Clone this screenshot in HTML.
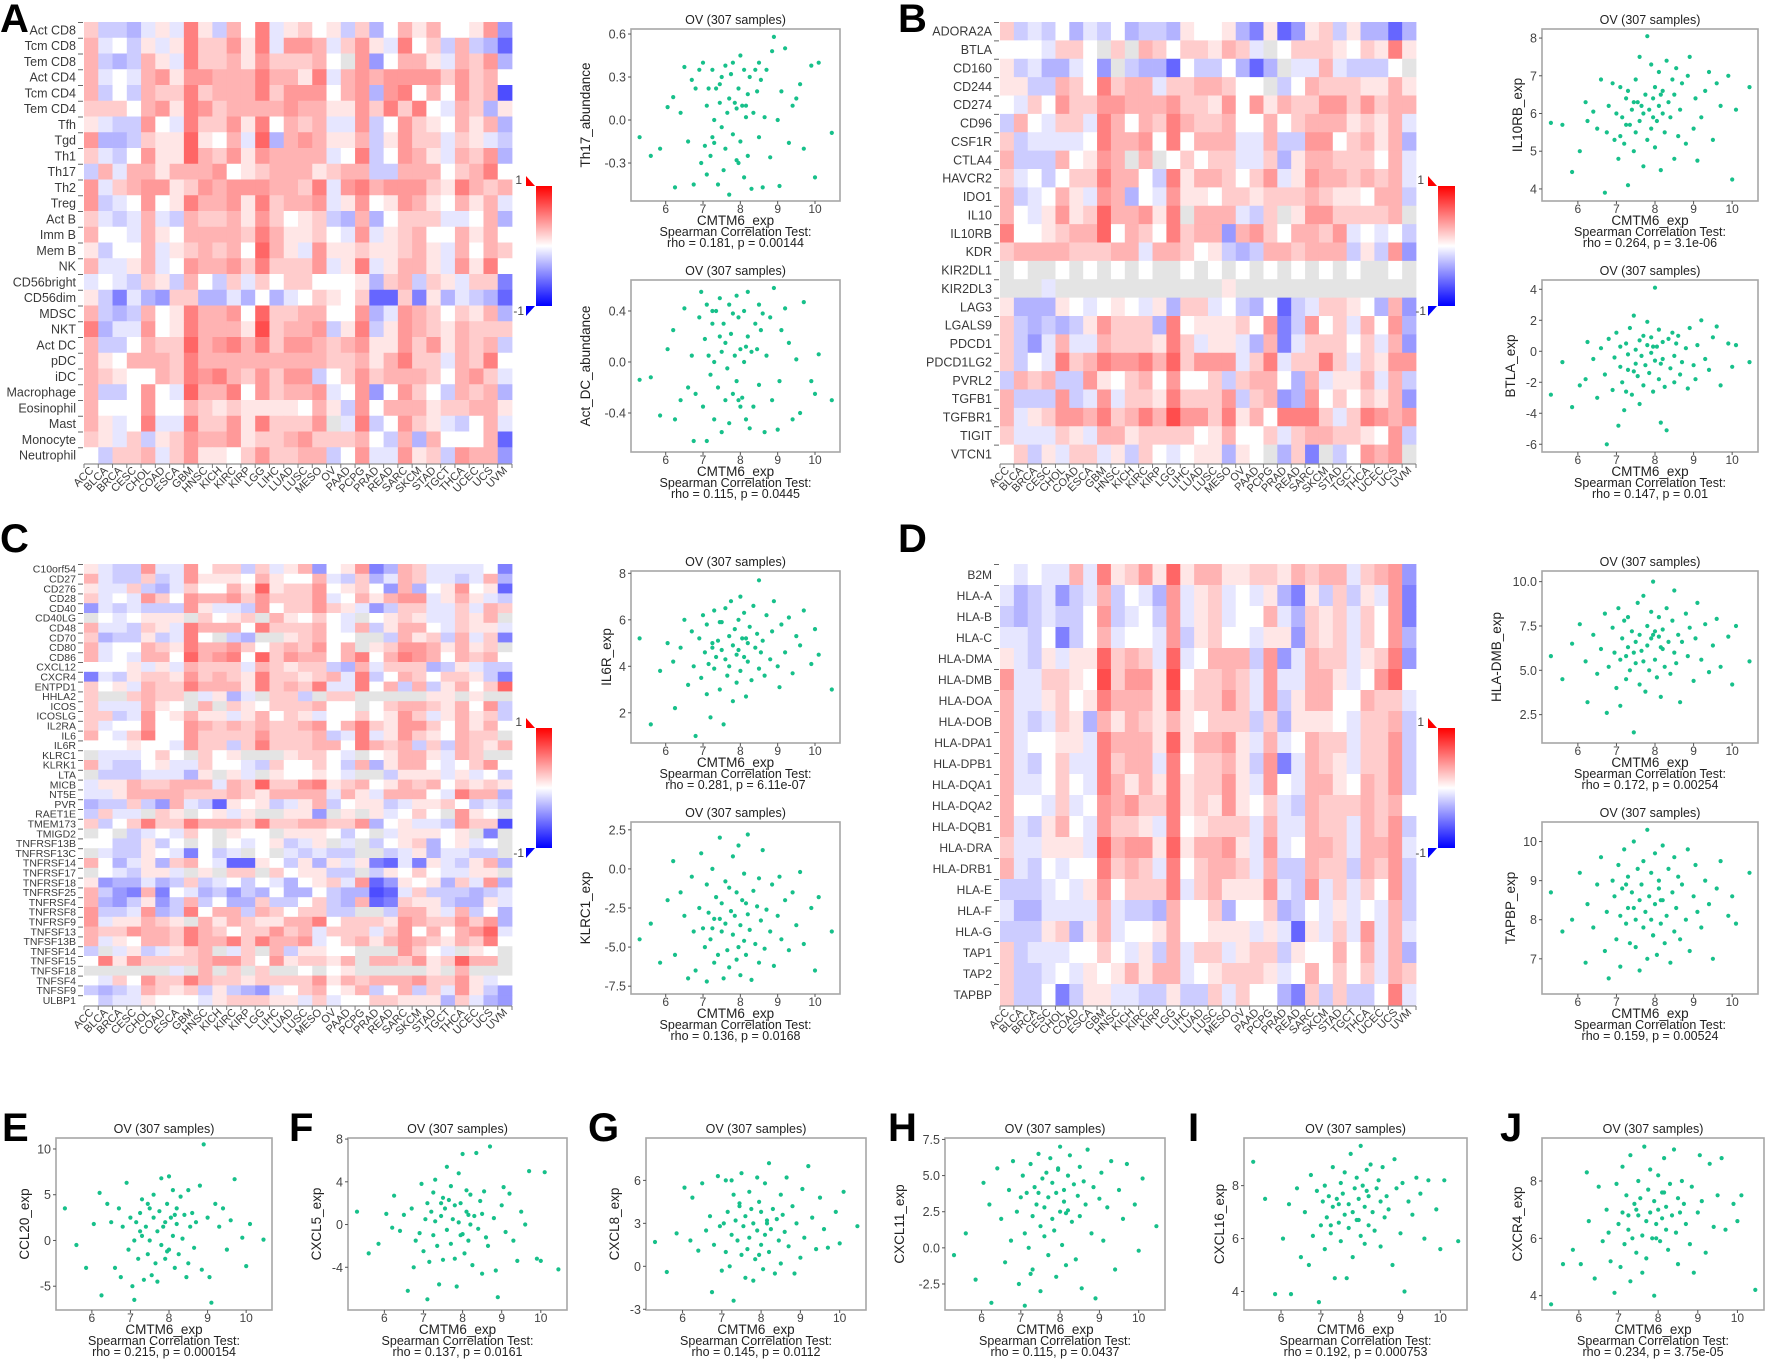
<!DOCTYPE html>
<html>
<head>
<meta charset="utf-8">
<style>
html,body{margin:0;padding:0;background:#fff;}
svg{display:block;font-family:"Liberation Sans",Arial,sans-serif;}
</style>
</head>
<body>
<svg id="fig" xmlns="http://www.w3.org/2000/svg" width="1772" height="1362" viewBox="0 0 1772 1362">
<rect x="0" y="0" width="1772" height="1362" fill="#fff"/>
</svg>
<script>
// ---------------- HEATMAP DATA ----------------
const cancerTypes = ["ACC","BLCA","BRCA","CESC","CHOL","COAD","ESCA","GBM","HNSC","KICH","KIRC","KIRP","LGG","LIHC","LUAD","LUSC","MESO","OV","PAAD","PCPG","PRAD","READ","SARC","SKCM","STAD","TGCT","THCA","UCEC","UCS","UVM"];
// codes: digit d => +d/10 ; letter a..i => -(1..9)/10 ; x => gray (NA)
const rowsA = ["Act CD8","Tcm CD8","Tem CD8","Act CD4","Tcm CD4","Tem CD4","Tfh","Tgd","Th1","Th17","Th2","Treg","Act B","Imm B","Mem B","NK","CD56bright","CD56dim","MDSC","NKT","Act DC","pDC","iDC","Macrophage","Eosinophil","Mast","Monocyte","Neutrophil"];
const codesA = [
"2bbca 1a51b 305a1 201b2 c0313 0014d",
"3a0b1 a1522 415a4 43a24 1a502 b3bcf",
"3bcb3 1a522 31422 230x4 d0331 a324c",
"3a0a3 41443 33533 15a34 34444 24230",
"3b0b3 22523 33524 44034 c4503 0423g",
"22203 41542 33334 33114 25250 a32c1",
"1abb4 0a522 41503 23aa4 b0421 0313c",
"4ccb2 11610 3a6c3 43113 b1422 a21ab",
"2ab04 11632 41433 33a05 b0431 a324c",
"b3a33 13334 01233 31233 bb333 02350",
"4a234 41243 44433 25a45 34442 15323",
"4ba04 01533 41523 34a14 01431 0313a",
"2aba3 ab322 31420 12bc3 c0222 aa03c",
"300a3 10333 32531 120a4 a1230 03130",
"1b003 a1232 30631 a4112 11231 a3032",
"3aa13 a0433 42522 24a15 a1331 a4150",
"a0ab2 1b30b 2a202 20001 c23b2 1a22e",
"1beac d22cc ac0ca 02102 ff2e1 cabcf",
"3bcb3 01533 40622 33004 ca432 0213c",
"5caa4 01533 31723 34b15 b1432 13222",
"3bb03 22634 53524 43234 11424 1323b",
"31033 32533 33333 33223 13522 a3250",
"32100 32545 32424 4b024 23332 0342a",
"3bb04 0a633 50423 34a04 d0420 b323c",
"30004 00321 21111 031b4 03331 22331",
"31a05 aa522 41522 24xa5 b0421 ab03a",
"21a2b 12433 41223 42223 0b3c3 0003f",
"0b223 a2411 02422 33b04 aa412 b433d"];
const rowsB = ["ADORA2A","BTLA","CD160","CD244","CD274","CD96","CSF1R","CTLA4","HAVCR2","IDO1","IL10","IL10RB","KDR","KIR2DL1","KIR2DL3","LAG3","LGALS9","PDCD1","PDCD1LG2","PVRL2","TGFB1","TGFBR1","TIGIT","VTCN1"];
const codesB = [
"2bab0 cab0c bbc10 01ce1 fd12b 1ccfc",
"000a2 20x2x 32022 132ax 02221 02151",
"1bacc a0dxb ccf0b b0cfc xaa3a bbb0x",
"11bb3 20523 3a223 3200x b0322 21131",
"0a204 22443 33422 14041 32244 24233",
"b30a2 2a530 32532 23003 02333 1213a",
"2baaa a0533 40503 33aa3 bb440 2313c",
"3bbb3 0143x 3x020 22aa2 c1332 2203a",
"2a0b0 22533 0b513 32024 a1433 2323a",
"3ba03 1a43c 0a411 02212 22321 1033b",
"30a14 12633 415x3 33ab2 x1442 2223x",
"50012 33603 20523 3d342 03324 a0a0b",
"23333 22233 a3320 1bcb3 32333 b1b4d",
"x0xx0 x0x0x 0xx0x 0x0x0 x0x0x 0xx0x",
"xxxax xxxxx xxxxx x1xxx xxxxx xxxxx",
"1ccc1 0a010 a1c22 a0bc0 fba22 10c3d",
"2bcbc b1422 2c501 11204 eb402 a304c",
"2bda3 aa322 2152a 11ac3 ea222 02a3d",
"2b0a5 23544 53624 44a25 a2252 a2144",
"b323b b4102 30400 2b233 0c3a1 13a3b",
"3bbb4 ba4a2 21522 24b23 dc402 0213d",
"3a124 43523 53744 25130 5552a 25434",
"2aaa2 1a331 22220 13002 a2332 2104b",
"02b1a 22a1b 20a01 1c10x c2exb 0434x"];
const rowsC = ["C10orf54","CD27","CD276","CD28","CD40","CD40LG","CD48","CD70","CD80","CD86","CXCL12","CXCR4","ENTPD1","HHLA2","ICOS","ICOSLG","IL2RA","IL6","IL6R","KLRC1","KLRK1","LTA","MICB","NT5E","PVR","RAET1E","TMEM173","TMIGD2","TNFRSF13B","TNFRSF13C","TNFRSF14","TNFRSF17","TNFRSF18","TNFRSF25","TNFRSF4","TNFRSF8","TNFRSF9","TNFSF13","TNFSF13B","TNFSF14","TNFSF15","TNFSF18","TNFSF4","TNFSF9","ULBP1"];
const codesC = [
"1abb4 aa402 2b2a1 3d014 ec32a aaa0e",
"3abb2 ba411 10310 03ab2 ca32a aba3c",
"1aa2b ca200 31612 24012 0d3c0 1401f",
"2a0a4 20433 42422 24a03 1344a 131ab",
"dabab bb41a ab402 2421a db22a a2a32",
"x0a01 11x20 12x31 020ax 0121a a213x",
"3aab2 1a533 30522 230a3 b1330 a211a",
"2cbb1 ba50x bcxx1 2300x xb312 b3a2e",
"3a003 21533 42023 2403x 12443 1312x",
"3a0a3 30634 50624 33035 03543 03230",
"0001a 1a322 2a321 22bc3 a222c b1abb",
"eab12 21423 21522 123a5 b0320 221be",
"201a3 22533 31523 25aa5 03b3b 13026",
"2xx23 22xa1 cax22 bx22x xxxx1 1x1xx",
"2aaa3 10x3x 21022 2300x 02332 1304b",
"22ba4 01311 a1302 1a002 0142a 1312b",
"2a004 00432 32322 34035 21442 03130",
"30a25 00422 22422 23ba5 a1421 0322x",
"00010 0a422 b2522 23305 323b2 b3213",
"xaaa0 20x20 1xxx1 220ax 01331 a32xx",
"3abb0 1aa20 0ab20 020b3 c1330 a0240",
"xbbba aac1x 1ax10 010ax xb111 a1a0b",
"a1132 2333a 32622 45123 01323 02121",
"aa133 33222 32133 33a31 a3330 a533c",
"cbb2b d3abf 101ba 13b01 1ba11 20bab",
"b2aax 21x01 a1xx1 1dx1x 1a020 x410x",
"2b025 22533 32522 33224 c01aa b422g",
"x0xba 0a20x 100x1 110b0 xa111 01xex",
"00bb1 b0x0x 0a01b a1xax b012c 01a0x",
"xabb1 0ae0b ax0xa babbx xba1c aabbx",
"30ca1 c230a ff10b 1c1a1 efae1 ab13c",
"x0ab1 1ax1x 22x20 11bbx b1020 aa11x",
"1dcca cb2ba 0b0ac 012a4 fd101 c2a4c",
"3bde3 e0acb dbc0c c0bcc gfa2b bbcba",
"3cdb1 db3b0 cc2bb 02bc3 fe211 bcc1a",
"4bba4 cb503 3b320 22bbx xb331 a3b0c",
"4a113 21x31 32113 35022 21432 2424c",
"32243 32532 02242 3a222 a2403 0346a",
"3a103 32533 52533 4a023 13432 13250",
"bxa1b a123x a2x3b 1100x xx420 ax10x",
"05142 22234 42041 2213x 33241 2633x",
"xxxxx xax3x 2x2xx 0x01x xxxx1 x3xxx",
"0a204 22532 21222 24132 33342 241a0",
"bcba3 212b1 bcda0 23013 b03b2 a41bd",
"0baa1 000a1 22211 a2a00 22111 c2acd"];
const rowsD = ["B2M","HLA-A","HLA-B","HLA-C","HLA-DMA","HLA-DMB","HLA-DOA","HLA-DOB","HLA-DPA1","HLA-DPB1","HLA-DQA1","HLA-DQA2","HLA-DQB1","HLA-DRA","HLA-DRB1","HLA-E","HLA-F","HLA-G","TAP1","TAP2","TAPBP"];
const codesD = [
"0a0aa 3a512 41613 31122 13233 a234d",
"acbad ba3b0 ac4a1 2a0a1 ce1b2 b1a4e",
"bcbab b04ba 0b4a1 2a003 ac212 a204e",
"aab0e b03a0 0a4b1 200a1 1d212 a204c",
"1ab1a 11623 2a6a0 333b4 da322 a125d",
"4aa22 10724 41702 232a4 aa331 a0460",
"3aa12 01533 31612 242a4 b1330 0322a",
"3aba2 1c313 21310 222b2 c1110 a223b",
"3a001 1a533 31613 341a3 a0322 a224b",
"3ab02 aa523 3a502 231b4 ea321 a224b",
"3aa02 0a531 31512 241a4 0a331 0324b",
"300a2 a0434 22512 14102 ab322 23230",
"3ab13 0a422 1a501 222a3 aa322 a324b",
"2aa11 1a634 41613 341a4 a0332 a334a",
"3ab0a 00523 2a502 332a3 bb322 b324b",
"bbba0 a1402 225a2 31114 ab4a2 a204b",
"accaa aa3ab bc300 2c002 cb0a1 a0a3b",
"bbb12 c13a0 01300 111a1 af1a2 a4a3a",
"2baaa 0020a 1b3a2 2a122 b1003 03a3c",
"2bba0 a1013 133a0 12221 a0302 02a32",
"2bb0e b11aa bb1bb 2a200 ce2b2 bb05a"];

// ---------------- SCATTER DATA ----------------
const cmtm6Exp = [5.3,5.6,5.85,6.05,6.2,6.25,6.4,6.5,6.6,6.7,6.75,6.8,6.9,6.95,7.0,7.05,7.1,7.1,7.15,7.2,7.25,7.3,7.3,7.35,7.4,7.45,7.5,7.5,7.55,7.6,7.6,7.65,7.7,7.7,7.75,7.8,7.8,7.85,7.9,7.9,7.95,8.0,8.0,8.05,8.1,8.1,8.15,8.2,8.2,8.25,8.3,8.35,8.4,8.45,8.5,8.5,8.55,8.6,8.65,8.7,8.8,8.85,8.9,9.0,9.05,9.1,9.2,9.3,9.4,9.5,9.6,9.7,9.9,10.0,10.1,10.45,7.45,7.95,8.15,7.25];
const th17Abundance = [-0.12,-0.25,-0.2,0.09,0.16,-0.47,0.05,0.37,-0.15,0.28,-0.45,0.22,0.35,-0.3,0.4,-0.18,0.1,-0.38,0.22,-0.25,0.35,-0.16,0.0,0.22,-0.45,0.12,-0.05,0.3,-0.35,0.38,-0.2,0.05,0.15,-0.52,0.32,-0.1,0.4,0.12,-0.28,0.08,0.22,0.45,-0.15,0.1,0.35,-0.4,0.02,0.18,-0.25,0.3,-0.48,0.05,0.35,0.2,-0.12,0.4,0.28,-0.47,0.02,0.35,-0.26,0.48,0.58,0.0,-0.46,0.2,0.5,-0.16,0.1,0.15,0.25,-0.2,0.38,-0.4,0.4,-0.09,0.25,-0.3,0.1,-0.12];
const actDCAbundance = [-0.14,-0.12,-0.42,0.1,0.25,-0.45,-0.3,0.42,-0.2,0.05,-0.62,-0.25,0.35,0.55,-0.35,0.18,0.45,-0.62,0.05,-0.1,0.3,-0.45,0.0,0.4,-0.2,0.5,-0.55,0.08,0.3,-0.3,0.15,-0.05,0.45,-0.48,0.22,-0.25,0.38,0.05,-0.15,0.52,0.35,-0.35,0.1,-0.28,0.4,0.0,-0.45,0.2,0.55,-0.52,0.08,-0.35,0.3,0.1,0.45,-0.18,0.25,0.38,-0.55,0.05,0.35,-0.3,0.58,-0.53,-0.15,0.25,0.42,0.15,-0.45,0.02,-0.4,0.47,-0.15,-0.25,0.06,-0.3,0.2,-0.3,0.12,0.4];
const il10rbExp = [5.75,5.7,4.45,5.0,6.3,5.8,6.05,5.6,6.9,3.9,5.5,6.2,6.8,5.3,6.0,4.8,5.4,6.7,5.9,5.2,6.4,4.1,6.6,5.7,6.1,5.0,6.9,5.5,6.3,7.5,5.8,6.2,4.6,6.0,6.5,5.3,8.05,6.1,5.6,7.3,6.4,5.1,6.7,5.8,6.2,7.1,4.5,6.0,6.6,5.5,7.4,6.3,5.9,6.9,4.8,6.5,7.2,5.4,6.1,6.8,5.2,7.0,7.5,5.6,6.4,4.75,5.9,6.6,7.1,5.3,6.8,6.2,7.0,4.25,6.1,6.7,6.3,5.9,6.5,5.7];
const btlaExp = [-2.8,-0.7,-3.6,-2.2,-1.8,0.6,-0.5,-3.0,0.2,-1.5,-6.0,0.8,-2.5,-0.4,1.2,-4.8,-1.0,0.3,-2.0,-3.8,0.5,-1.2,-0.2,1.5,-2.8,2.3,-0.8,0.1,-1.6,0.7,-3.4,-0.3,1.0,-2.2,-0.9,0.4,1.9,-1.4,-0.1,0.9,-2.6,4.1,-0.6,0.3,-1.8,1.4,-4.6,-0.5,0.6,-2.3,-5.1,0.8,-1.1,1.2,-0.3,-2.0,0.5,1.0,-1.5,-0.7,0.2,-2.4,1.5,-0.9,-1.8,0.4,2.0,-0.5,-1.2,0.9,1.6,-2.2,0.5,-1.0,0.4,-0.7,-1.3,0.3,-0.8,-2.6];
const il6rExp = [5.2,1.5,3.8,5.0,4.2,2.2,4.8,6.0,3.2,5.5,4.0,1.0,5.2,3.5,6.2,4.6,2.8,5.8,4.1,1.8,5.0,3.9,6.4,4.4,5.1,3.0,4.7,5.9,1.5,4.3,6.5,3.6,5.3,4.0,6.8,2.5,4.9,5.6,3.3,4.5,6.0,7.0,3.8,5.2,4.4,6.3,2.7,5.0,4.2,5.7,3.4,6.6,4.8,5.4,3.9,7.7,4.6,5.1,3.6,6.2,4.3,5.5,6.8,4.0,3.1,5.8,4.6,6.1,3.7,5.3,4.9,6.4,4.1,5.6,4.5,3.0,5.9,4.7,5.2,4.8];
const klrc1Exp = [-4.5,-3.5,-6.0,-2.0,0.5,-5.5,-1.5,-3.0,-7.0,-0.5,-4.0,-6.5,-2.5,1.0,-3.8,-5.0,-1.0,-7.2,-2.8,-4.5,0.0,-6.0,-3.2,-1.8,-5.5,2.0,-4.0,-2.2,-7.0,-0.8,-3.5,-5.2,-1.2,-6.3,-2.7,0.8,-4.2,-3.0,-5.8,-1.5,1.5,-3.6,-6.8,-2.0,-4.6,-0.3,-5.5,-2.9,2.2,-3.9,-7.1,-1.4,-4.8,-2.4,-6.0,-0.6,-3.3,1.2,-5.1,-2.6,-4.0,-1.0,-6.2,-3.0,-0.5,-4.5,-2.0,-5.2,-1.5,-3.6,-0.2,-4.8,-2.5,-6.5,-1.8,-4.0,-3.2,-5.0,-2.2,-3.8];
const hlaDmbExp = [5.8,4.5,6.5,7.6,5.5,3.2,7.0,4.8,6.2,8.2,2.6,5.2,7.4,6.0,4.0,8.5,5.6,3.0,6.8,7.8,4.5,6.3,8.0,5.0,7.2,1.5,6.6,5.4,8.8,4.2,7.0,6.1,5.5,9.2,3.8,7.5,6.4,5.0,8.3,6.8,10.0,5.6,7.2,4.6,6.9,8.0,3.5,7.3,6.2,5.2,8.5,6.6,4.8,7.8,6.0,9.5,5.4,7.0,3.2,6.6,8.2,5.8,7.4,4.4,6.8,8.8,5.6,7.6,4.9,6.4,7.9,5.2,6.9,4.2,7.5,5.5,6.0,7.0,6.3,5.8];
const tapbpExp = [8.7,7.7,8.0,9.2,6.9,8.4,7.8,8.9,9.6,7.2,8.2,6.5,9.0,8.6,7.5,9.4,8.1,6.8,8.8,9.8,7.9,8.3,9.1,7.4,8.7,10.0,8.0,7.3,9.3,8.5,6.7,8.9,9.5,7.8,8.2,10.3,7.0,8.6,9.2,8.0,7.6,9.7,8.4,7.1,8.8,9.0,7.9,8.5,9.9,7.4,8.1,9.3,6.9,8.7,9.6,7.7,8.3,9.1,7.5,8.9,8.0,9.8,7.2,8.6,9.4,8.2,7.8,9.0,8.4,7.0,8.8,9.5,8.1,8.6,7.9,9.2,8.3,7.6,8.5,8.9];
const ccl20Exp = [3.5,-0.5,-3.0,1.8,5.2,-6.0,4.0,2.0,-3.0,3.5,-4.0,1.5,6.3,-1.0,2.5,-5.0,0.0,-6.5,2.0,-2.0,3.0,0.5,4.5,-4.3,1.5,-1.5,3.5,0.0,-3.8,2.5,5.0,-2.5,1.0,-4.5,3.2,-0.5,6.8,1.5,-2.0,2.0,4.0,7.0,-1.0,2.5,0.5,5.5,-3.0,1.8,3.5,-1.5,4.8,0.2,2.8,-4.0,5.5,-2.5,1.5,3.0,-0.8,2.0,6.0,-3.2,10.5,2.5,-4.0,-6.8,4.0,1.5,3.5,-1.0,2.2,6.7,0.3,-2.8,1.8,0.1,4.0,-1.2,2.8,1.0];
const cxcl5Exp = [1.2,-2.7,-1.8,1.0,-0.3,2.7,-0.6,0.9,-6.2,1.5,-4.0,-1.5,-0.8,3.8,-2.5,0.5,-7.0,2.0,-3.5,1.2,-1.0,0.3,4.2,-2.0,-5.6,0.8,2.5,-3.3,1.5,5.4,-0.5,2.3,-1.8,3.6,0.5,-3.2,1.8,-5.8,0.2,4.8,2.0,-0.9,6.6,-2.7,1.2,3.2,-1.5,0.0,2.8,-3.8,0.8,6.7,-0.4,2.2,-4.6,1.0,3.1,-1.2,-2.0,7.3,0.6,-4.3,-6.8,1.8,3.5,-0.7,2.9,-1.5,-3.4,1.2,0.0,5.0,-3.2,-3.4,4.9,-4.2,2.0,-1.0,0.9,3.0];
const cxcl8Exp = [1.7,-0.4,2.3,5.5,1.8,4.8,1.1,5.8,2.5,3.5,-1.8,1.5,6.3,2.8,-0.3,3.0,6.0,1.0,3.8,0.0,2.2,5.0,-2.4,3.2,1.8,4.2,0.8,6.5,2.8,-0.8,3.5,1.2,5.2,2.0,4.0,-1.0,3.0,0.5,6.2,2.5,4.5,1.5,3.8,-0.2,2.2,5.8,3.0,1.0,7.2,2.6,4.0,-0.5,3.3,1.8,5.0,0.2,3.6,2.4,6.2,1.4,4.2,-0.5,3.0,0.6,5.4,2.0,7.0,3.4,1.2,4.8,2.6,1.3,3.8,1.6,5.2,2.8,4.4,0.8,3.2,6.0];
const cxcl11Exp = [-0.5,1.0,-2.2,4.5,3.0,-3.8,5.5,2.0,-1.0,4.0,0.5,6.0,2.5,-2.5,3.5,5.0,1.0,-4.0,3.8,0.0,5.8,2.2,-1.5,4.2,3.0,6.5,1.5,-3.0,4.8,2.8,0.8,5.2,3.5,-0.5,6.2,2.0,4.5,1.2,-2.0,3.8,5.5,2.5,7.0,0.2,4.0,3.2,-1.2,5.0,2.6,6.4,1.8,4.4,-0.8,3.6,5.6,2.2,-2.8,4.6,3.0,6.8,1.0,4.2,-3.5,3.4,5.2,0.5,2.8,6.0,-1.5,4.0,2.0,5.8,3.0,-0.2,4.8,1.5,3.8,5.4,2.4,-1.8];
const cxcl16Exp = [8.9,7.5,3.9,6.0,7.3,3.9,7.9,5.3,7.0,5.0,8.4,6.1,7.8,3.6,6.5,7.4,5.6,8.0,6.8,7.6,6.2,8.7,7.2,4.5,7.5,6.6,8.1,5.9,7.7,6.9,8.5,4.5,7.3,6.4,9.2,7.0,5.3,7.9,8.3,6.7,7.5,9.5,6.1,8.0,7.2,5.8,8.6,7.6,6.5,8.8,7.0,6.3,7.9,8.2,5.7,7.4,8.7,6.8,7.6,7.1,5.0,9.0,7.9,6.2,8.1,4.0,7.4,6.9,8.3,7.7,6.0,8.2,7.1,5.6,8.2,5.9,7.3,6.7,7.8,6.5];
const cxcr4Exp = [3.7,5.1,5.6,5.1,8.3,6.6,4.6,7.8,5.9,7.0,6.2,5.2,4.1,7.9,6.5,5.0,8.5,6.9,5.8,7.5,6.3,4.5,8.9,6.0,7.2,5.5,6.8,8.0,7.4,4.8,6.1,9.2,6.6,5.3,7.7,6.9,8.4,6.0,7.3,4.0,6.5,8.2,7.0,5.9,7.6,6.7,8.8,6.3,7.1,5.6,7.9,6.8,9.1,6.2,7.4,5.1,6.9,8.0,7.2,6.5,5.8,7.8,4.8,6.9,8.9,7.3,5.5,8.6,6.4,7.5,8.8,6.3,7.2,6.6,7.5,4.2,7.0,6.0,7.6,6.8];
// tick values / labels
const xTicks = [6,7,8,9,10];
const ticksTh17 = [-0.3,0,0.3,0.6], labelsTh17 = ["-0.3","0.0","0.3","0.6"];
const ticksActDC = [-0.4,0,0.4], labelsActDC = ["-0.4","0.0","0.4"];
const ticksIl10rb = [4,5,6,7,8];
const ticksBtla = [-6,-4,-2,0,2,4];
const ticksIl6r = [2,4,6,8];
const ticksKlrc1 = [-7.5,-5,-2.5,0,2.5], labelsKlrc1 = ["-7.5","-5.0","-2.5","0.0","2.5"];
const ticksHlaDmb = [2.5,5,7.5,10], labelsHlaDmb = ["2.5","5.0","7.5","10.0"];
const ticksTapbp = [7,8,9,10];
const ticksCcl20 = [-5,0,5,10];
const ticksCxcl5 = [-4,0,4,8];
const ticksCxcl8 = [-3,0,3,6];
const ticksCxcl11 = [-2.5,0,2.5,5,7.5], labelsCxcl11 = ["-2.5","0.0","2.5","5.0","7.5"];
const ticksCxcl16 = [4,6,8];
const ticksCxcr4 = [4,6,8];

// ---------------- DRAWING ----------------
const NS = "http://www.w3.org/2000/svg";
const svg = document.getElementById("fig");
function mk(tag, attrs, parent){
  const e = document.createElementNS(NS, tag);
  for (const k in attrs) e.setAttribute(k, attrs[k]);
  (parent || svg).appendChild(e);
  return e;
}
function txt(str, attrs, parent){
  const t = mk("text", attrs, parent);
  t.textContent = str;
  return t;
}
function decode(code){
  return code.replace(/ /g,"").split("").map(ch=>{
    if (ch>="0" && ch<="9") return (+ch)/10;
    if (ch==="x") return null;
    return -(ch.charCodeAt(0)-96)/10;
  });
}
function heatColor(v){
  if (v===null) return "rgb(228,228,228)";
  v = Math.max(-1, Math.min(1, v));
  if (v>=0){ const g = Math.round(255*(1-v)); return `rgb(255,${g},${g})`; }
  const r = Math.round(255*(1+v)); return `rgb(${r},${r},255)`;
}

function drawHeatmap(name, rows, codes, x0, y0, x1, y1, fs){
  const g = mk("g", {});
  
  
  const nC = cancerTypes.length, nR = rows.length;
  const cw = (x1-x0)/nC, rh = (y1-y0)/nR;
  const xs = i => x0 + i*cw, ys = j => y0 + j*rh;
  codes.forEach((code, j)=>{
    const vals = decode(code);
    vals.forEach((v, i)=>{
      const r = mk("rect", {x:xs(i).toFixed(2), y:ys(j).toFixed(2), width:(cw+0.4).toFixed(2), height:(rh+0.4).toFixed(2), fill:heatColor(v)}, g);
      
      
    });
  });
  rows.forEach((lab, j)=>{
    const t = txt(lab, {x:x0-8, y:(ys(j)+rh/2+fs*0.36).toFixed(1), "text-anchor":"end", "font-size":fs, fill:"#3a3a3a"}, g);
    
    
    mk("line", {x1:x0-6, x2:x0-1, y1:ys(j)+0.5, y2:ys(j)+0.5, stroke:"#666", "stroke-width":1}, g);
  });
  mk("line", {x1:x0, x2:x1, y1:y1+1, y2:y1+1, stroke:"#777", "stroke-width":1}, g);
  cancerTypes.forEach((lab, i)=>{
    mk("line", {x1:xs(i), x2:xs(i), y1:y1+1, y2:y1+5, stroke:"#777", "stroke-width":1}, g);
    const cx = xs(i)+cw/2+3, cy = y1+8;
    const t = txt(lab, {x:cx, y:cy, "text-anchor":"end", "font-size":11, fill:"#3a3a3a", transform:`rotate(-45 ${cx} ${cy})`}, g);
    
    
  });
  mk("line", {x1:x1, x2:x1, y1:y1+1, y2:y1+5, stroke:"#777", "stroke-width":1}, g);
}

let gradCount = 0;
function drawColorbar(name, x0, y0, x1, y1){
  const g = mk("g", {});
  
  
  const id = "cbgrad"+(gradCount++);
  const defs = mk("defs", {}, g);
  const lg = mk("linearGradient", {id:id, x1:0, y1:0, x2:0, y2:1}, defs);
  mk("stop", {offset:"0", "stop-color":"#ff0000"}, lg);
  mk("stop", {offset:"0.5", "stop-color":"#ffffff"}, lg);
  mk("stop", {offset:"1", "stop-color":"#0000ff"}, lg);
  mk("rect", {x:x0, y:y0, width:x1-x0, height:y1-y0, fill:`url(#${id})`}, g);
  mk("polygon", {points:`${x0-10},${y0-10} ${x0-10},${y0} ${x0-1},${y0}`, fill:"#ff0000"}, g);
  mk("polygon", {points:`${x0-10},${y1+10} ${x0-10},${y1} ${x0-1},${y1}`, fill:"#0000ff"}, g);
  txt("1", {x:x0-14, y:y0-2, "text-anchor":"end", "font-size":12, fill:"#444"}, g);
  txt("-1", {x:x0-12, y:y1+9, "text-anchor":"end", "font-size":12, fill:"#444"}, g);
}

const xDom = [5.07, 10.67];
function drawScatter(name, x0, y0, w, h, yvals, yDom, yTicks, yLabels, ylab, stat){
  const g = mk("g", {});
  
  
  const sx = v => x0 + (v-xDom[0])/(xDom[1]-xDom[0])*w;
  const sy = v => y0 + h - (v-yDom[0])/(yDom[1]-yDom[0])*h;
  const title = txt("OV (307 samples)", {x:x0+w/2, y:y0-5, "text-anchor":"middle", "font-size":12.5, fill:"#222"}, g);
  
  
  const n = Math.min(cmtm6Exp.length, yvals.length);
  for (let i=0;i<n;i++){
    const c = mk("circle", {cx:sx(cmtm6Exp[i]).toFixed(1), cy:sy(yvals[i]).toFixed(1), r:2.1, fill:"#17c08a"}, g);
    
    
  }
  const box = mk("rect", {x:x0, y:y0, width:w, height:h, fill:"none", stroke:"#a6a6a6", "stroke-width":1.6}, g);
  
  
  xTicks.forEach(v=>{
    const X = sx(v);
    mk("line", {x1:X, x2:X, y1:y0+h, y2:y0+h+3, stroke:"#555", "stroke-width":1}, g);
    const t = txt(String(v), {x:X, y:y0+h+12, "text-anchor":"middle", "font-size":12, fill:"#444"}, g);
    
    
  });
  let maxLen = 0;
  yTicks.forEach((v, k)=>{
    const Y = sy(v);
    const lab = yLabels ? yLabels[k] : String(v);
    maxLen = Math.max(maxLen, lab.length);
    mk("line", {x1:x0-3, x2:x0, y1:Y, y2:Y, stroke:"#555", "stroke-width":1}, g);
    const t = txt(lab, {x:x0-5, y:Y+4.5, "text-anchor":"end", "font-size":12.5, fill:"#444"}, g);
    
    
  });
  const lx = x0 - 10 - maxLen*7 - 3, ly = y0 + h/2;
  const yl = txt(ylab, {x:lx, y:ly, "text-anchor":"middle", "font-size":13.5, fill:"#222", transform:`rotate(-90 ${lx} ${ly})`}, g);
  
  
  const cx = x0 + w/2;
  const xl = txt("CMTM6_exp", {x:cx, y:y0+h+24, "text-anchor":"middle", "font-size":13.5, fill:"#222"}, g);
  
  
  const s1 = txt("Spearman Correlation Test:", {x:cx, y:y0+h+35, "text-anchor":"middle", "font-size":12.5, fill:"#222"}, g);
  
  
  const s2 = txt(stat, {x:cx, y:y0+h+46, "text-anchor":"middle", "font-size":12.5, fill:"#222"}, g);
  
  
}

function panelLetter(ch, x, y){
  const t = txt(ch, {x:x, y:y, "font-size":40, "font-weight":"bold", fill:"#000"});
  
  
}

// Panel A
panelLetter("A", 0, 32);
drawHeatmap("heatmap-immune-cells", rowsA, codesA, 84, 22, 512, 463, 12.5);
drawColorbar("colorbar-a", 536, 186, 552, 306);
drawScatter("scatter-th17", 631, 29, 209, 172, th17Abundance, [-0.565,0.635], ticksTh17, labelsTh17, "Th17_abundance", "rho = 0.181, p = 0.00144");
drawScatter("scatter-act-dc", 631, 280, 209, 172, actDCAbundance, [-0.706,0.643], ticksActDC, labelsActDC, "Act_DC_abundance", "rho = 0.115, p = 0.0445");
// Panel B
panelLetter("B", 898, 32);
drawHeatmap("heatmap-immunoinhibitors", rowsB, codesB, 1000, 22, 1416, 463, 12.5);
drawColorbar("colorbar-b", 1438, 186, 1455, 306);
drawScatter("scatter-il10rb", 1542, 29, 216, 172, il10rbExp, [3.68,8.24], ticksIl10rb, null, "IL10RB_exp", "rho = 0.264, p = 3.1e-06");
drawScatter("scatter-btla", 1542, 280, 216, 172, btlaExp, [-6.5,4.6], ticksBtla, null, "BTLA_exp", "rho = 0.147, p = 0.01");
// Panel C
panelLetter("C", 0, 552);
drawHeatmap("heatmap-immunostimulators", rowsC, codesC, 84, 564, 512, 1005, 10.5);
drawColorbar("colorbar-c", 536, 728, 552, 848);
drawScatter("scatter-il6r", 631, 571, 209, 172, il6rExp, [0.7,8.1], ticksIl6r, null, "IL6R_exp", "rho = 0.281, p = 6.11e-07");
drawScatter("scatter-klrc1", 631, 822, 209, 172, klrc1Exp, [-8.0,3.0], ticksKlrc1, labelsKlrc1, "KLRC1_exp", "rho = 0.136, p = 0.0168");
// Panel D
panelLetter("D", 898, 552);
drawHeatmap("heatmap-mhc", rowsD, codesD, 1000, 564, 1416, 1005, 12);
drawColorbar("colorbar-d", 1438, 728, 1455, 848);
drawScatter("scatter-hla-dmb", 1542, 571, 216, 172, hlaDmbExp, [0.9,10.6], ticksHlaDmb, labelsHlaDmb, "HLA-DMB_exp", "rho = 0.172, p = 0.00254");
drawScatter("scatter-tapbp", 1542, 822, 216, 172, tapbpExp, [6.1,10.5], ticksTapbp, null, "TAPBP_exp", "rho = 0.159, p = 0.00524");
// Bottom row
panelLetter("E", 2, 1141);
drawScatter("scatter-ccl20", 56, 1138, 216, 172, ccl20Exp, [-7.6,11.2], ticksCcl20, null, "CCL20_exp", "rho = 0.215, p = 0.000154");
panelLetter("F", 289, 1141);
drawScatter("scatter-cxcl5", 348, 1138, 219, 172, cxcl5Exp, [-8.0,8.1], ticksCxcl5, null, "CXCL5_exp", "rho = 0.137, p = 0.0161");
panelLetter("G", 588, 1141);
drawScatter("scatter-cxcl8", 646, 1138, 220, 172, cxcl8Exp, [-3.05,8.96], ticksCxcl8, null, "CXCL8_exp", "rho = 0.145, p = 0.0112");
panelLetter("H", 888, 1141);
drawScatter("scatter-cxcl11", 945, 1138, 220, 172, cxcl11Exp, [-4.3,7.6], ticksCxcl11, labelsCxcl11, "CXCL11_exp", "rho = 0.115, p = 0.0437");
panelLetter("I", 1188, 1141);
drawScatter("scatter-cxcl16", 1244, 1138, 223, 172, cxcl16Exp, [3.3,9.8], ticksCxcl16, null, "CXCL16_exp", "rho = 0.192, p = 0.000753");
panelLetter("J", 1500, 1141);
drawScatter("scatter-cxcr4", 1542, 1138, 222, 172, cxcr4Exp, [3.5,9.5], ticksCxcr4, null, "CXCR4_exp", "rho = 0.234, p = 3.75e-05");
</script>
</body>
</html>
